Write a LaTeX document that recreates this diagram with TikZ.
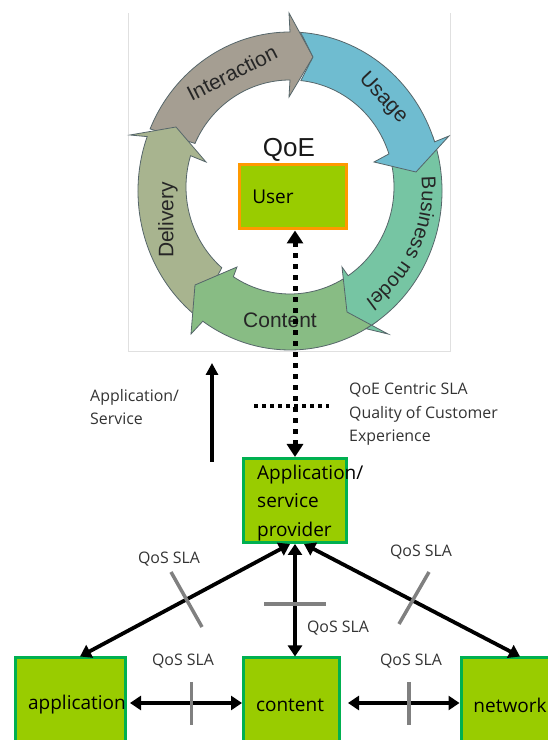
\documentclass[tikz,border=0pt]{standalone}
\usepackage{fontspec}
\setmainfont{Open Sans}
\newfontfamily\ringfont{Liberation Sans}
\usetikzlibrary{arrows.meta,decorations.text}
\definecolor{boxgreen}{HTML}{99CC00}
\definecolor{boxedge}{HTML}{00B050}
\definecolor{useredge}{HTML}{FF9900}
\definecolor{cInter}{HTML}{A59E92}
\definecolor{cUsage}{HTML}{6FBCD0}
\definecolor{cBiz}{HTML}{76C5A3}
\definecolor{cCont}{HTML}{88BC84}
\definecolor{cDeliv}{HTML}{A8B48F}
\definecolor{ringedge}{HTML}{56666A}
\def\ou#1{({290+152*cos(#1)},{549+159*sin(#1)})}
\def\inn#1{({290+104*cos(#1)},{553+107*sin(#1)})}
\def\ouarc#1#2{arc[start angle=#1,end angle=#2,x radius=152,y radius=159]}
\def\inarc#1#2{arc[start angle=#1,end angle=#2,x radius=104,y radius=107]}
\tikzset{
  greenbox/.style={draw=boxedge,fill=boxgreen,line width=3pt,inner sep=0pt,outer sep=1.5pt},
  boxtext/.style={font=\fontsize{19}{23}\selectfont,inner sep=0pt},
  smalltext/.style={font=\fontsize{15.9}{23.5}\selectfont,text=black!80,inner sep=0pt,align=left},
  ringtext/.style={font=\ringfont\fontsize{21}{25}\selectfont,text=black!85,inner sep=0pt},
  ringarrow/.style={draw=ringedge,line width=0.8pt,line join=miter},
  link/.style={line width=3.8pt,{Triangle[length=11pt,width=14pt]}-{Triangle[length=11pt,width=14pt]},black},
  tickmark/.style={line width=3.5pt,draw=black!50},
  dotv/.style={line width=5pt,dash pattern=on 5pt off 6pt,{Triangle[length=13pt,width=16pt]}-{Triangle[length=13pt,width=16pt]}},
  doth/.style={line width=4pt,dash pattern=on 4pt off 4pt},
}
\begin{document}
\begin{tikzpicture}[x=1pt,y=1pt]
\useasboundingbox (0,0) rectangle (548,740);
\clip (0,0) rectangle (548,740);
% frame of the ring picture
\draw[black!12,line width=0.8pt] (128,727) -- (128,389) -- (450,389) -- (450,727);
% ring arrows
\path[ringarrow,fill=cInter] \ou{157} \ouarc{157}{90} -- (289,727) -- (313,683) -- (289,643) -- \inn{90} \inarc{90}{156} -- cycle;
\path[ringarrow,fill=cDeliv] \ou{232} \ouarc{232}{160} -- (130,605) -- (176,613) -- (206,578) -- \inn{163} \inarc{163}{229} -- cycle;
\path[ringarrow,fill=cCont] \ou{305} \ouarc{305}{235} -- (191,406) -- (195,455) -- (237,473) -- \inn{237} \inarc{237}{303} -- cycle;
\path[ringarrow,fill=cBiz] \ou{20} \ouarc{20}{-60} -- (388,406) -- (347,428) -- (342,473) -- \inn{-56} \inarc{-56}{14} -- cycle;
\path[ringarrow,fill=cUsage] \ou{86} \ouarc{86}{18} -- (449,604) -- (416,568) -- (374,578) -- \inn{18} \inarc{18}{84} -- (313,683) -- cycle;
% ring labels
\node[ringtext,rotate=27] (tInter) at (232,667) {Interaction};
\node[ringtext,rotate=-47] (tUsage) at (383,642) {Usage};
\node[ringtext,rotate=90] (tDeliv) at (168,520) {Delivery};
\node[ringtext] (tCont) at (280,420) {Content};
\path[decorate,decoration={text along path,text align=center,
  text={|\ringfont\fontsize{20}{24}\selectfont\color{black!85}|Business model}}]
  ({290+132*cos(15)},{551+135*sin(15)}) arc[start angle=15,end angle=-65,x radius=132,y radius=135];
\node[font=\ringfont\fontsize{26}{30}\selectfont,text=black!90,inner sep=0pt] (tQoE) at (289,590) {QoE};
% user box
\node[draw=useredge,fill=boxgreen,line width=3pt,minimum width=107pt,minimum height=64pt,inner sep=0pt,outer sep=1.5pt] (user) at (293,543) {};
\node[boxtext] (tUser) at (273,543) {User};
% provider and lower boxes
\node[greenbox,minimum width=103pt,minimum height=84pt] (prov) at (295,239.5) {};
\node[greenbox,minimum width=110pt,minimum height=90pt] (app) at (70.5,37) {};
\node[greenbox,minimum width=96pt,minimum height=90pt] (cont) at (291.5,37) {};
\node[greenbox,minimum width=100pt,minimum height=90pt] (net) at (511,37) {};
\node[boxtext,anchor=base west] (tProv1) at (257,260) {Application/};
\node[boxtext,anchor=base west] (tProv2) at (257,232) {service};
\node[boxtext,anchor=base west] (tProv3) at (257,203.5) {provider};
\node[boxtext] (tApp) at (77,35) {application};
\node[boxtext] (tCont2) at (290,35) {content};
\node[boxtext] (tNet) at (510,35) {network};
% dotted QoE link
\draw[dotv] (prov.north) -- ([xshift=2pt]user.south);
\coordinate (hdA) at (254,334);
\coordinate (hdB) at (329,334);
\draw[doth] (hdA) -- (hdB);
% application/service arrow
\coordinate (upA) at (212,278);
\coordinate (upB) at (212,377);
\draw[line width=3.6pt,-{Triangle[length=12pt,width=12pt]}] (upA) -- (upB);
% SLA links
\draw[link] ([xshift=9.5pt]app.north) -- ([xshift=-5pt]prov.south);
\draw[link] ([xshift=3.5pt]cont.north) -- (prov.south);
\draw[link] ([xshift=9pt]net.north) -- ([xshift=9pt]prov.south);
\draw[link] ([xshift=3pt]app.east) -- (cont.west);
\draw[link] ([xshift=7pt]cont.east) -- (net.west);
% ticks on the links
\draw[tickmark] (171,168) -- (202,113);
\draw[tickmark] (264,136) -- (326,136);
\draw[tickmark] (429,168) -- (399,116);
\draw[tickmark] (191.5,58) -- (191.5,15);
\draw[tickmark] (409,58) -- (409,15);
% texts
\node[smalltext,anchor=west] (t1) at (90,333) {Application/\\Service};
\node[smalltext,anchor=west] (t2) at (349,325.5) {QoE Centric SLA\\Quality of Customer\\Experience};
\node[smalltext] (q1) at (169,181) {QoS SLA};
\node[smalltext] (q2) at (338,112) {QoS SLA};
\node[smalltext] (q3) at (421,188) {QoS SLA};
\node[smalltext] (q4) at (183,79) {QoS SLA};
\node[smalltext] (q5) at (411,79) {QoS SLA};
\end{tikzpicture}
\end{document}
